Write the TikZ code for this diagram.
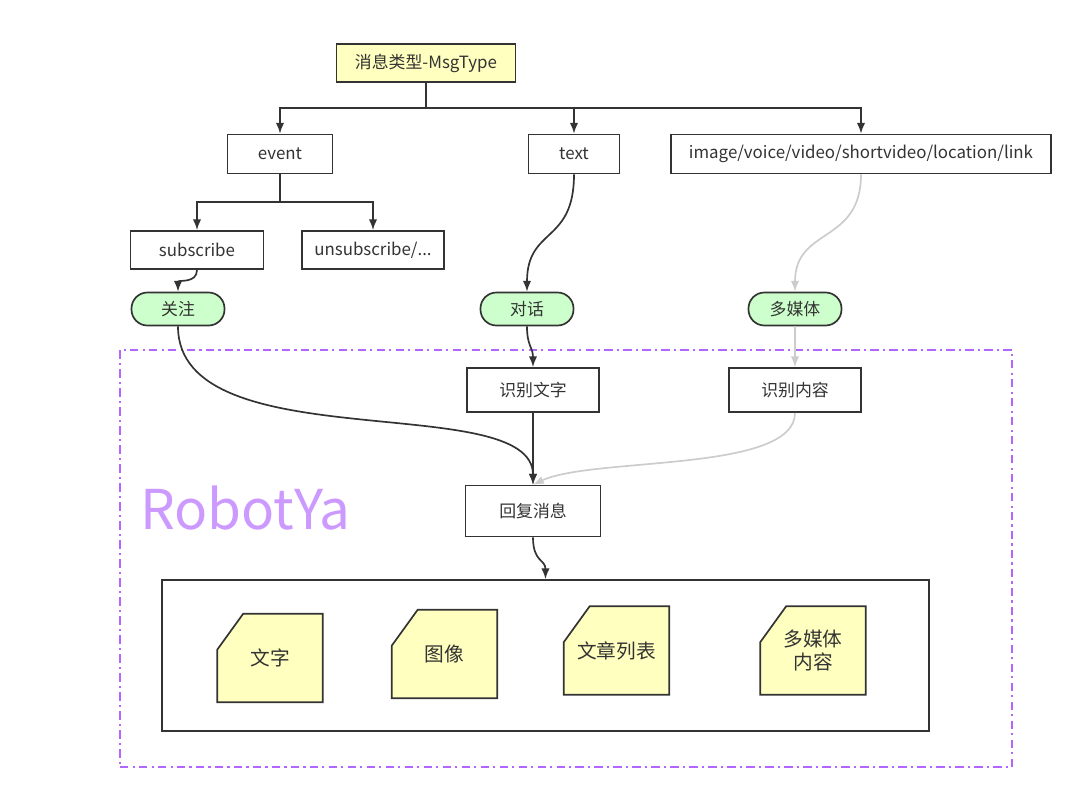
\documentclass[tikz,border=0pt]{standalone}
\usepackage{fontspec}
\setmainfont{Noto Sans CJK SC}
\usetikzlibrary{arrows.meta,calc,backgrounds}
\definecolor{edge}{HTML}{333333}
\definecolor{faint}{HTML}{CCCCCC}
\definecolor{paleyellow}{HTML}{FFFFC0}
\definecolor{palegreen}{HTML}{CCFFCC}
\definecolor{robotline}{HTML}{B266FF}
\definecolor{robottext}{HTML}{CC99FF}
\begin{document}
\begin{tikzpicture}[x=0.025cm,y=-0.025cm,
    font=\fontsize{12}{14}\selectfont, text=edge,
    box/.style={draw=edge,line width=1.2pt,inner sep=0pt},
    pill/.style={box,fill=palegreen,rounded corners=0.4cm,minimum width=2.325cm,minimum height=0.825cm},
    note/.style={inner sep=0pt,minimum width=2.625cm,minimum height=2.2cm,align=center,
        font=\fontsize{14}{17}\selectfont},
    arr/.style={draw=edge,line width=1.2pt,-{Latex[length=0.27cm,width=0.21cm]}},
    greyarr/.style={arr,draw=faint}]
    \useasboundingbox (0,0) rectangle (1080,796);
    % the robot frame
    \node[draw=robotline,line width=1pt,dash pattern=on 6pt off 3pt on 1.5pt off 3pt,
        minimum width=22.3cm,minimum height=10.425cm,inner sep=0pt] (robotya) at (566,558.5) {};
    \node[text=robottext,font=\fontsize{39}{39}\selectfont] (robotname) at (245,508) {RobotYa};
    % message types
    \node[box,fill=paleyellow,minimum width=4.475cm,minimum height=0.95cm] (msgtype) at (426,63) {消息类型-MsgType};
    \node[box,minimum width=2.625cm,minimum height=0.975cm] (event) at (280,154) {event};
    \node[box,minimum width=2.275cm,minimum height=0.975cm] (textmsg) at (574,154) {text};
    \node[box,minimum width=9.5cm,minimum height=0.975cm] (media) at (861,154) {image/voice/video/shortvideo/location/link};
    \node[box,minimum width=3.325cm,minimum height=0.95cm] (subscribe) at (197,250) {subscribe};
    \node[box,minimum width=3.55cm,minimum height=0.95cm] (unsubscribe) at (373,250) {unsubscribe/...};
    \node[pill] (follow) at (178,309) {关注};
    \node[pill] (chat) at (527,309) {对话};
    \node[pill] (multi) at (795,309) {多媒体};
    % inside the robot
    \node[box,minimum width=3.3cm,minimum height=1.1cm] (readtext) at (533,390) {识别文字};
    \node[box,minimum width=3.3cm,minimum height=1.1cm] (readmedia) at (795,390) {识别内容};
    \node[box,minimum width=3.375cm,minimum height=1.275cm] (reply) at (533,511) {回复消息};
    \node[box,minimum width=19.175cm,minimum height=3.775cm] (replies) at (545.5,655.5) {};
    \node[note] (wenzi) at (270,658) {文字};
    \node[note] (tuxiang) at (444.5,654) {图像};
    \node[note] (liebiao) at (616.5,650.5) {文章列表};
    \node[note] (duomeiti) at (813,650.5) {多媒体\\内容};
    \begin{scope}[on background layer]
        \foreach \n in {wenzi,tuxiang,liebiao,duomeiti}
            \filldraw[draw=edge,fill=paleyellow,line width=1.2pt] (\n.south west) -- (\n.south east)
                -- (\n.north east) -- ($(\n.north west)+(26,0)$) -- ($(\n.north west)+(0,36)$) -- cycle;
    \end{scope}
    % connectors
    \coordinate (split) at (426,108);
    \coordinate (eventsplit) at (280,202);
    \draw[edge,line width=1.2pt] (msgtype.south) -- (split);
    \foreach \t in {event,textmsg,media} {\draw[arr] (split) -| (\t);}
    \draw[edge,line width=1.2pt] (event.south) -- (eventsplit);
    \foreach \t in {subscribe,unsubscribe} {\draw[arr] (eventsplit) -| (\t);}
    \draw[arr] (subscribe.south) .. controls +(0,14) and +(0,-12) .. (follow.north);
    \draw[arr] (textmsg.south) .. controls +(0,70) and +(0,-65) .. (chat.north);
    \draw[greyarr] (media.south) .. controls +(0,70) and +(0,-65) .. (multi.north);
    \draw[arr] (chat.south) .. controls +(0,20) and +(0,-20) .. (readtext.north);
    \draw[greyarr] (multi) -- (readmedia);
    \draw[arr] (follow.south) .. controls +(0,135) and +(0,-96) .. (reply.north);
    \draw[arr] (readtext) -- (reply);
    \draw[greyarr] (readmedia.south) .. controls +(0,60) and +(60,-28) .. (reply.north);
    \draw[arr] (reply.south) .. controls +(0,25) and +(0,-20) .. (replies.north);
\end{tikzpicture}
\end{document}
